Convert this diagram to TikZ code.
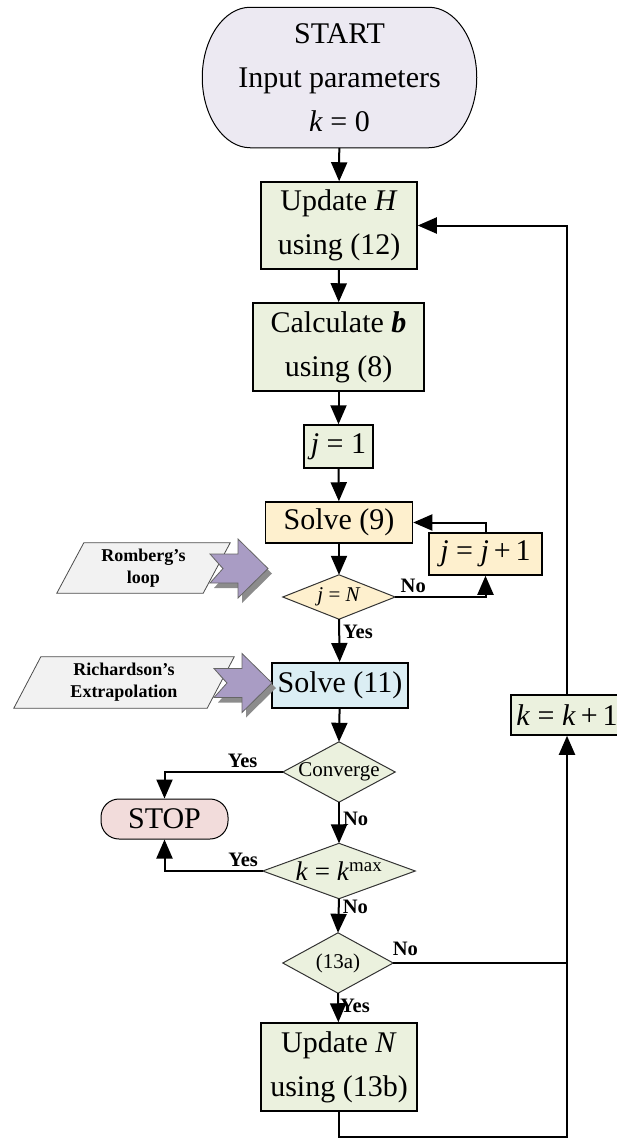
\documentclass[tikz,border=0pt]{standalone}
\usepackage{fontspec}
\setmainfont{Liberation Serif}
\usepackage{tikz}
\usetikzlibrary{arrows.meta, backgrounds}

\definecolor{startfill}{RGB}{236,233,242}
\definecolor{greenfill}{RGB}{235,241,222}
\definecolor{peachfill}{RGB}{254,240,206}
\definecolor{bluefill}{RGB}{219,238,244}
\definecolor{stopfill}{RGB}{242,220,219}
\definecolor{notefill}{RGB}{242,242,242}
\definecolor{arrowfill}{RGB}{169,156,196}

\newcommand{\var}[1]{\textit{#1}}

\tikzset{
	box/.style = {draw = black, line width = 1.5pt, fill = greenfill, inner sep = 0pt, align = center, font = \fontsize{30}{44}\selectfont},
	decision/.style = {inner sep = 0pt, font = \fontsize{21}{24}\selectfont},
	flow/.style = {line width = 2pt, -{Triangle[length = 19pt, width = 16pt]}},
	lbl/.style = {font = \bfseries\fontsize{20.5}{23}\selectfont, inner sep = 3pt},
	note/.style = {inner sep = 0pt, align = center, font = \bfseries\fontsize{18}{22}\selectfont},
}

\begin{document}
\begin{tikzpicture}[x = 1pt, y = -1pt]
			\useasboundingbox (0, 0) rectangle (616, 1138);
			
			\node[box, draw = none, fill = none, minimum width = 273pt, minimum height = 139pt] (start) at (339.5, 77.5) {START\\Input parameters\\\var{k} = 0};
			\node[box, minimum width = 156pt, minimum height = 87pt] (updH) at (339, 225.5) {Update \var{H}\\using (12)};
			\node[box, minimum width = 171pt, minimum height = 88pt] (calcb) at (338.5, 347) {Calculate \textbf{\textit{b}}\\using (8)};
			\node[box, minimum width = 69pt, minimum height = 43pt] (j1) at (338.5, 446.5) {\var{j} = 1};
			\node[box, fill = peachfill, minimum width = 147pt, minimum height = 41pt] (solve9) at (339, 522.5) {Solve (9)};
			\node[box, fill = peachfill, minimum width = 113pt, minimum height = 42pt] (jinc) at (485.5, 554) {\var{j} = \var{j}\,+\,1};
			\node[decision, minimum width = 112pt, minimum height = 44pt] (jN) at (339, 597) {\var{j} = \var{N}};
			\node[box, fill = bluefill, line width = 2pt, minimum width = 136pt, minimum height = 45pt] (solve11) at (340, 685.5) {Solve (11)};
			\node[decision, minimum width = 112pt, minimum height = 60pt] (conv) at (339, 772) {Converge};
			\node[box, fill = stopfill, line width = 1pt, rounded corners = 18pt, minimum width = 127pt, minimum height = 40pt] (stop) at (164.5, 819) {STOP};
			\node[decision, font = \fontsize{27}{30}\selectfont, minimum width = 152pt, minimum height = 55pt] (kmax) at (339, 871) {\var{k} = \var{k}\textsuperscript{max}};
			\node[decision, minimum width = 110pt, minimum height = 60pt] (crit) at (338, 963) {(13a)};
			\node[box, minimum width = 156pt, minimum height = 88pt] (updN) at (339, 1067) {Update \var{N}\\using (13b)};
			\node[box, minimum width = 112pt, minimum height = 40pt] (kinc) at (567, 715) {\var{k} = \var{k}\,+\,1};
			
			\node[note, minimum width = 146pt, minimum height = 50pt] (rom) at (143.5, 568) {Romberg’s\\loop};
			\node[note, minimum width = 193pt, minimum height = 51pt] (rich) at (124, 682.5) {Richardson’s\\Extrapolation};
			\coordinate (romtip) at (268, 568.5);
			\coordinate (richtip) at (272, 683);
			\coordinate (rbot) at (567, 1136.5);
			
			\begin{scope}[on background layer]
				\filldraw[fill = startfill, line width = 1pt] ([xshift = 48pt]start.north west) -- ([xshift = -48pt]start.north east) .. controls +(26.5, 0) and +(0, -38.4) .. (start.east) .. controls +(0, 38.4) and +(26.5, 0) .. ([xshift = -48pt]start.south east) -- ([xshift = 48pt]start.south west) .. controls +(-26.5, 0) and +(0, 38.4) .. (start.west) .. controls +(0, -38.4) and +(-26.5, 0) .. ([xshift = 48pt]start.north west) -- cycle;
				\foreach \d/\c in {jN/peachfill, conv/greenfill, kmax/greenfill, crit/greenfill}
					\filldraw[fill = \c, draw = black!80, line width = 1pt] (\d.north) -- (\d.east) -- (\d.south) -- (\d.west) -- cycle;
				\foreach \n in {rom, rich}
					\filldraw[fill = notefill, draw = black!70, line width = 0.8pt] ([xshift = 13.5pt]\n.north west) -- ([xshift = 13.5pt]\n.north east) -- ([xshift = -13.5pt]\n.south east) -- ([xshift = -13.5pt]\n.south west) -- cycle;
			\end{scope}
			
			\foreach \p in {romtip, richtip} {
				\fill[black!45] ([xshift = 4pt, yshift = -5pt]\p) -- ++(-30, -29.5) -- ++(0, 15) -- ++(-28, 0) -- ++(13, 14.5) -- ++(-13, 14.5) -- ++(28, 0) -- ++(0, 15) -- cycle;
				\filldraw[fill = arrowfill, draw = black!60, line width = 0.8pt] (\p) -- ++(-30, -29.5) -- ++(0, 15) -- ++(-28, 0) -- ++(13, 14.5) -- ++(-13, 14.5) -- ++(28, 0) -- ++(0, 15) -- cycle;
			}
			
			\draw[flow] (start) -- (updH);
			\draw[flow] (updH) -- (calcb);
			\draw[flow] (calcb) -- (j1);
			\draw[flow] (j1) -- (solve9);
			\draw[flow] (solve9) -- (jN.north);
			\draw[flow] (jN.east) -| node[lbl, pos = 0.1, above] (noj) {No} (jinc.south);
			\draw[flow] (jinc.north) |- (solve9.east);
			\draw[flow] (jN.south) -- node[lbl, pos = 0.3, right] (yesj) {Yes} (solve11);
			\draw[flow] (solve11) -- (conv.north);
			\draw[flow] (conv.west) -| node[lbl, pos = 0.17, above] (yesc) {Yes} (stop.north);
			\draw[flow] (conv.south) -- node[lbl, pos = 0.4, right] (noc) {No} (kmax.north);
			\draw[flow] (kmax.west) -| node[lbl, pos = 0.1, above] (yesk) {Yes} (stop.south);
			\draw[flow] (kmax.south) -- node[lbl, pos = 0.25, right] (nok) {No} (crit.north);
			\draw[flow] (crit.south) -- node[lbl, pos = 0.45, right, inner sep = 1pt] (yesn) {Yes} (updN);
			\draw[line width = 2pt] (crit.east) -- node[lbl, pos = 0.07, above, inner sep = 6pt] (non) {No} (crit.east -| rbot);
			\draw[flow] (updN.south) |- (rbot) -- (kinc.south);
			\draw[flow] (kinc.north) |- (updH.east);
			\end{tikzpicture}
\end{document}
